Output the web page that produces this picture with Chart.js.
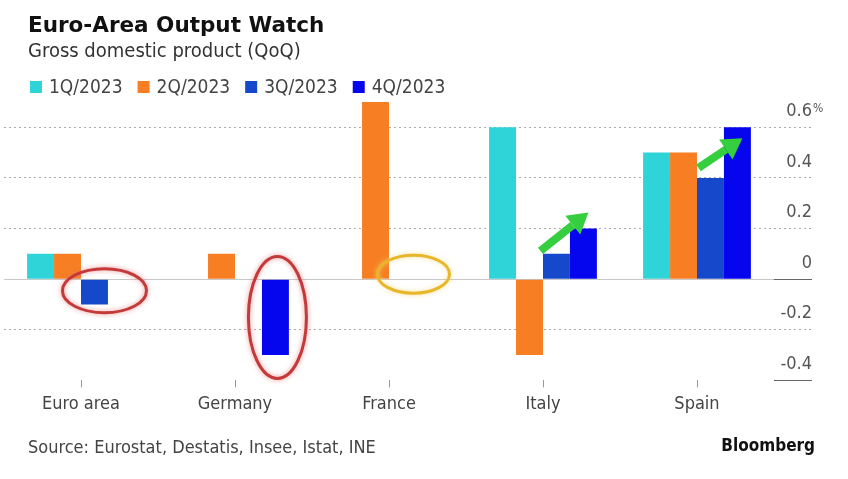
<!DOCTYPE html>
<html>
<head>
<meta charset="utf-8">
<script src="https://cdn.jsdelivr.net/npm/chart.js@4.4.1/dist/chart.umd.min.js"></script>
<style>
  html, body { margin: 0; padding: 0; background: #fff; }
  #wrap { width: 848px; height: 479px; position: relative; }
</style>
</head>
<body>
<div id="wrap"><canvas id="gdpChart"></canvas></div>
<script>
const categories = ['Euro area', 'Germany', 'France', 'Italy', 'Spain'];
const seriesLabels = ['1Q/2023', '2Q/2023', '3Q/2023', '4Q/2023'];
const q1 = [0.1, 0.0, 0.0, 0.6, 0.5];
const q2 = [0.1, 0.1, 0.7, -0.3, 0.5];
const q3 = [-0.1, 0.0, 0.0, 0.1, 0.4];
const q4 = [0.0, -0.3, 0.0, 0.2, 0.6];
const yTicks = [-0.4, -0.2, 0, 0.2, 0.4, 0.6];

const colors = ['rgb(47, 212, 216)', 'rgb(247, 126, 34)', 'rgb(22, 72, 204)', 'rgb(6, 6, 238)'];
const condensed = '"DejaVu Sans Condensed", "DejaVu Sans", sans-serif';

// title, legend, source line and the "%" unit
const chrome = {
    id: 'chrome',
    afterDraw(chart) {
        const ctx = chart.ctx;
        ctx.save();
        ctx.textAlign = 'left';
        ctx.textBaseline = 'alphabetic';

        ctx.fillStyle = '#111';
        ctx.font = 'bold 21.5px "DejaVu Sans", sans-serif';
        ctx.fillText('Euro-Area Output Watch', 28, 32);

        ctx.fillStyle = '#333';
        ctx.font = '20px ' + condensed;
        ctx.fillText('Gross domestic product (QoQ)', 28, 57);

        ctx.font = '19px ' + condensed;
        let x = 30;
        chart.data.datasets.forEach(ds => {
            ctx.fillStyle = ds.backgroundColor;
            ctx.fillRect(x, 81, 12, 12);
            ctx.fillStyle = '#444';
            ctx.fillText(ds.label, x + 19, 93);
            x += 19 + ctx.measureText(ds.label).width + 15;
        });

        ctx.fillStyle = '#444';
        ctx.font = '18px ' + condensed;
        ctx.fillText('Source: Eurostat, Destatis, Insee, Istat, INE', 28, 453);

        ctx.fillStyle = '#111';
        ctx.font = 'bold 17px ' + condensed;
        ctx.textAlign = 'right';
        ctx.fillText('Bloomberg', 815, 451);

        const y06 = chart.scales.y.getPixelForValue(0.6);
        ctx.fillStyle = '#555';
        ctx.font = '12px ' + condensed;
        ctx.textAlign = 'left';
        ctx.fillText('%', 813, y06 - 15);
        ctx.restore();
    }
};

// hand-drawn highlights on top of the bars
const marks = {
    id: 'marks',
    afterDatasetsDraw(chart) {
        const ctx = chart.ctx;
        const bar = (ds, i) => chart.getDatasetMeta(ds).data[i];

        const ellipse = (cx, cy, rx, ry, color, glow) => {
            ctx.save();
            ctx.strokeStyle = color;
            ctx.lineWidth = 3;
            ctx.shadowColor = glow;
            ctx.shadowBlur = 5;
            ctx.beginPath();
            ctx.ellipse(cx, cy, rx, ry, 0, 0, Math.PI * 2);
            ctx.stroke();
            ctx.restore();
        };

        const arrow = (x1, y1, x2, y2) => {
            const a = Math.atan2(y2 - y1, x2 - x1);
            const head = 20;
            const bx = x2 - head * Math.cos(a), by = y2 - head * Math.sin(a);
            ctx.save();
            ctx.strokeStyle = 'rgb(52, 206, 62)';
            ctx.fillStyle = 'rgb(52, 206, 62)';
            ctx.lineWidth = 8;
            ctx.beginPath();
            ctx.moveTo(x1, y1);
            ctx.lineTo(bx, by);
            ctx.stroke();
            ctx.beginPath();
            ctx.moveTo(x2, y2);
            ctx.lineTo(bx + 12 * Math.sin(a), by - 12 * Math.cos(a));
            ctx.lineTo(bx - 12 * Math.sin(a), by + 12 * Math.cos(a));
            ctx.closePath();
            ctx.fill();
            ctx.restore();
        };

        const ea = bar(2, 0);
        ellipse(ea.x + 10, ea.base + 11, 42, 22, 'rgb(196, 58, 58)', 'rgba(230, 120, 120, 0.8)');
        const de = bar(3, 1);
        ellipse(de.x + 2, (de.y + de.base) / 2, 29, 61, 'rgb(196, 58, 58)', 'rgba(230, 120, 120, 0.8)');
        const fr = bar(2, 2);
        ellipse(fr.x + 11, fr.base - 5, 36, 19, 'rgb(232, 182, 40)', 'rgba(245, 215, 120, 0.8)');

        const it3 = bar(2, 3), it4 = bar(3, 3);
        arrow(it3.x - 16, it3.y - 3, it4.x + 5, it4.y - 16);
        const es3 = bar(2, 4), es4 = bar(3, 4);
        arrow(es3.x - 12, es3.y - 10, es4.x + 5, es4.y + 11);
    }
};

const seriesData = [q1, q2, q3, q4];

new Chart(document.getElementById('gdpChart'), {
    type: 'bar',
    data: {
        labels: categories,
        datasets: seriesLabels.map((label, i) => ({
            label: label,
            data: seriesData[i],
            backgroundColor: colors[i],
            borderWidth: 0,
            categoryPercentage: 0.7,
            barPercentage: 1.0
        }))
    },
    options: {
        responsive: true,
        maintainAspectRatio: false,
        animation: false,
        layout: { padding: { top: 102, bottom: 58, left: 4, right: 36 } },
        plugins: {
            legend: { display: false },
            tooltip: { enabled: false }
        },
        scales: {
            x: {
                border: { display: false },
                grid: {
                    drawOnChartArea: false,
                    offset: false,
                    tickLength: 7,
                    color: '#999'
                },
                ticks: {
                    padding: 6,
                    color: '#444',
                    font: { family: condensed, size: 18 }
                }
            },
            y: {
                position: 'right',
                min: -0.4,
                max: 0.7,
                afterBuildTicks: scale => { scale.ticks = yTicks.map(v => ({ value: v })); },
                afterFit: scale => { scale.width = 38; },
                border: {
                    display: false,
                    dash: ctx => (ctx.tick && ctx.tick.value === 0) ? [] : [2, 3]
                },
                grid: {
                    tickLength: 38,
                    color: ctx => ctx.tick.value === -0.4 ? 'rgba(0,0,0,0)' : (ctx.tick.value === 0 ? '#c8c8c8' : '#aaa'),
                    tickColor: ctx => (ctx.tick.value === 0 || ctx.tick.value === -0.4) ? '#666' : '#aaa',
                    tickBorderDash: ctx => (ctx.tick.value === 0 || ctx.tick.value === -0.4) ? [] : [2, 3]
                },
                ticks: {
                    crossAlign: 'far',
                    labelOffset: -16,
                    color: '#555',
                    font: { family: condensed, size: 18 },
                    callback: v => v === 0 ? '0' : v.toFixed(1)
                }
            }
        }
    },
    plugins: [chrome, marks]
});
</script>
</body>
</html>
